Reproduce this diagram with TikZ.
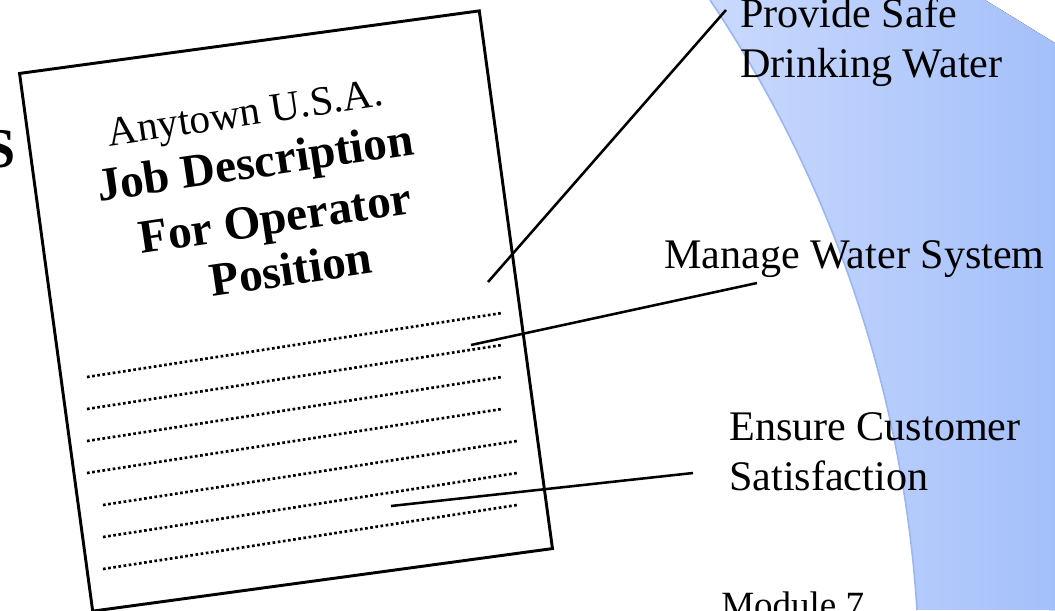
\documentclass[tikz,border=0pt]{standalone}
\usepackage{fontspec}
\setmainfont{Liberation Serif}
\definecolor{bandlight}{HTML}{CAD9FD}
\definecolor{banddark}{HTML}{A4C0FA}
\definecolor{bandedge}{HTML}{9AB6F7}

\begin{document}
\begin{tikzpicture}[
    x=0.75pt, y=-0.75pt,
    page_box/.style={rectangle, draw=black, line width=2.2pt, minimum width=348pt, minimum height=407pt, inner sep=0pt, rotate=7.75},
    title_text/.style={anchor=base, inner sep=0pt, transform shape, font=\fontsize{35.5}{37.5}\selectfont\bfseries},
    goal_text/.style={align=left, inner sep=0pt, font=\fontsize{31.6}{37.5}\selectfont},
    rule_line/.style={line width=2pt, dash pattern=on 2pt off 1.9pt},
    link/.style={line width=1.9pt, black}
]
    \useasboundingbox (0,0) rectangle (1055,610);

    % Background band
    \fill[left color=bandlight, middle color=banddark, right color=banddark]
        (710,0) arc[start angle=-33.9, end angle=-3.6, radius=1232] -- (1055,610) -- (1055,43) -- (985,0) -- cycle;
    \draw[bandedge, line width=1.2pt] (710,0) arc[start angle=-33.9, end angle=-3.6, radius=1232];

    % Nodes
    \node[anchor=base east, inner sep=0pt, font=\fontsize{42}{42}\selectfont\bfseries] (side) at (16,167) {S};
    \node[page_box] (page) at (286,311) {};
    \begin{scope}[rotate=8.5]
        \node[title_text, font=\fontsize{31}{37.5}\selectfont] (town) at (226,161) {Anytown U.S.A.};
        \node[title_text] (job) at (228,214) {Job Description};
        \node[title_text] (operator) at (240,272) {For Operator};
        \node[title_text] (position) at (248,325) {Position};
    \end{scope}
    \node[goal_text, anchor=base west] (safe) at (740,78) {Provide Safe\\Drinking Water};
    \node[goal_text, anchor=base west] (system) at (664,268) {Manage Water System};
    \node[goal_text, anchor=base west] (customer) at (729,490) {Ensure Customer\\Satisfaction};
    \node[anchor=base west, inner sep=0pt, font=\fontsize{27.75}{30}\selectfont] (module) at (721,617) {Module 7};

    % Ruled lines on the page
    \foreach \i in {0,...,3}
        \draw[rule_line] (87,377+32*\i) -- (502,313+32*\i);
    \foreach \i in {4,...,6}
        \draw[rule_line] (103,377+32*\i) -- (517,313+32*\i);

    % Connectors
    \coordinate (page_a) at (488,282);
    \coordinate (page_b) at (471,345);
    \coordinate (page_c) at (391,506);
    \coordinate (safe_end) at (726,10);
    \coordinate (system_end) at (757,283);
    \coordinate (customer_end) at (693,473);
    \draw[link] (page_a) -- (safe_end);
    \draw[link] (page_b) -- (system_end);
    \draw[link] (page_c) -- (customer_end);
\end{tikzpicture}
\end{document}
